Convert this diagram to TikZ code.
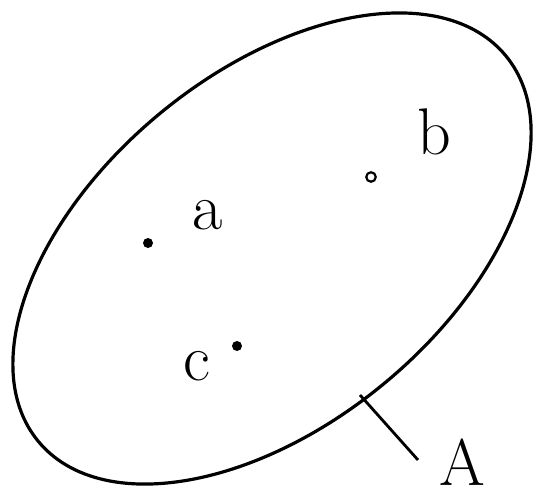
\documentclass[tikz,border=0pt]{standalone}
\usepackage{tikz}
\usetikzlibrary{
    positioning,
    calc
}
\tikzset{
    setoutline/.style={
        draw,
        line width=3.2pt
    }
}
\tikzset{
    elementdot/.style={
        circle,
        fill=black,
        inner sep=0pt,
        minimum size=10pt
    }
}
\tikzset{
    hollowdot/.style={
        circle,
        draw=black,
        line width=2.2pt,
        fill=white,
        inner sep=0pt,
        minimum size=9.5pt
    }
}
\tikzset{
    elementlabel/.style={
        font=\fontsize{66}{72}\selectfont,
        anchor=base,
        inner sep=0pt
    }
}
\tikzset{
    leader/.style={
        draw,
        line width=2.8pt
    }
}

\begin{document}
\begin{tikzpicture}[
    x=1pt,
    y=1pt
]
\useasboundingbox (0,0) rectangle (534,497);

% ------------------------------------------------------------
% The set A
% ------------------------------------------------------------

\coordinate (setA) at (272,248.5);
\draw[setoutline, rotate around={39.5:(setA)}] (setA) ellipse (303 and 175.5);

% ------------------------------------------------------------
% Its elements
% ------------------------------------------------------------

\node[elementdot] (pa) at (148,254) {};
\node[elementlabel] (la) at (208,267) {a};

\node[hollowdot] (pb) at (371,320) {};
\node[elementlabel] (lb) at (434,342) {b};

\node[elementdot] (pc) at (237,151) {};
\node[elementlabel] (lc) at (197,116) {c};

% label of the set, with its leader line
\node[elementlabel] (lA) at (462,12) {A};
\coordinate (Aedge) at (360,102);
\coordinate (Aend) at (418,37);
\draw[leader] (Aedge) -- (Aend);

\end{tikzpicture}
\end{document}
